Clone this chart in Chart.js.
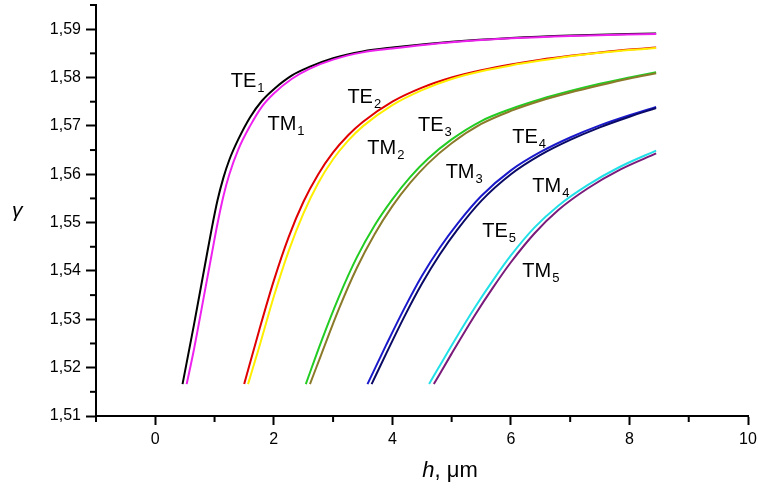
<!DOCTYPE html>
<html>
<head>
<meta charset="utf-8">
<script src="https://cdn.jsdelivr.net/npm/chart.js@4.4.0/dist/chart.umd.min.js"></script>
<style>
  html, body { margin: 0; padding: 0; background: #fff; }
  #wrap { width: 758px; height: 489px; position: relative; }
</style>
</head>
<body>
<div id="wrap"><canvas id="chart"></canvas></div>
<script>
// mode curves: thickness h (um) and effective index gamma
const te1H = [0.46, 0.65, 0.85, 0.95, 1.05, 1.15, 1.25, 1.40, 1.60, 1.80, 2.00, 2.30, 2.60, 3.00, 3.50, 4.00, 5.00, 6.00, 7.00, 8.45];
const te1G = [1.5166, 1.5287, 1.5420, 1.5486, 1.5546, 1.5593, 1.5630, 1.5672, 1.5718, 1.5752, 1.5776, 1.5804, 1.5822, 1.5840, 1.5854, 1.5862, 1.5874, 1.5882, 1.5887, 1.5891];
const tm1H = [0.53, 0.65, 0.85, 0.95, 1.05, 1.15, 1.25, 1.40, 1.60, 1.80, 2.00, 2.30, 2.60, 3.00, 3.50, 4.00, 5.00, 6.00, 7.00, 8.45];
const tm1G = [1.5166, 1.5236, 1.5367, 1.5433, 1.5498, 1.5555, 1.5600, 1.5651, 1.5700, 1.5740, 1.5767, 1.5797, 1.5818, 1.5837, 1.5852, 1.5860, 1.5873, 1.5881, 1.5886, 1.5890];

const te2H = [1.50, 1.75, 2.00, 2.25, 2.50, 2.75, 3.00, 3.25, 3.50, 4.00, 4.50, 5.00, 5.50, 6.00, 6.50, 7.00, 7.50, 8.00, 8.45];
const te2G = [1.5166, 1.5276, 1.5380, 1.5470, 1.5543, 1.5600, 1.5645, 1.5680, 1.5708, 1.5750, 1.5779, 1.5800, 1.5815, 1.5827, 1.5837, 1.5845, 1.5852, 1.5858, 1.5862];
const tm2H = [1.565, 1.75, 2.00, 2.25, 2.50, 2.75, 3.00, 3.25, 3.50, 4.00, 4.50, 5.00, 5.50, 6.00, 6.50, 7.00, 7.50, 8.00, 8.45];
const tm2G = [1.5166, 1.5241, 1.5347, 1.5441, 1.5519, 1.5582, 1.5631, 1.5669, 1.5699, 1.5743, 1.5774, 1.5797, 1.5813, 1.5825, 1.5835, 1.5844, 1.5851, 1.5857, 1.5861];

const te3H = [2.54, 2.80, 3.10, 3.40, 3.70, 4.00, 4.30, 4.60, 5.00, 5.50, 6.00, 6.50, 7.00, 7.50, 8.00, 8.45];
const te3G = [1.5166, 1.5254, 1.5347, 1.5428, 1.5494, 1.5548, 1.5594, 1.5632, 1.5672, 1.5710, 1.5735, 1.5755, 1.5772, 1.5787, 1.5800, 1.5811];
const tm3H = [2.61, 2.80, 3.10, 3.40, 3.70, 4.00, 4.30, 4.60, 5.00, 5.50, 6.00, 6.50, 7.00, 7.50, 8.00, 8.45];
const tm3G = [1.5166, 1.5227, 1.5322, 1.5406, 1.5476, 1.5534, 1.5582, 1.5622, 1.5664, 1.5704, 1.5731, 1.5752, 1.5769, 1.5784, 1.5798, 1.5809];

const te4H = [3.58, 3.90, 4.20, 4.50, 4.80, 5.10, 5.50, 6.00, 6.50, 7.00, 7.50, 8.00, 8.45];
const te4G = [1.5166, 1.5248, 1.5322, 1.5390, 1.5448, 1.5498, 1.5555, 1.5608, 1.5646, 1.5676, 1.5701, 1.5722, 1.5739];
const tm4H = [3.65, 3.90, 4.20, 4.50, 4.80, 5.10, 5.50, 6.00, 6.50, 7.00, 7.50, 8.00, 8.45];
const tm4G = [1.5166, 1.5230, 1.5305, 1.5374, 1.5434, 1.5486, 1.5545, 1.5600, 1.5640, 1.5671, 1.5697, 1.5719, 1.5737];

const te5H = [4.62, 5.00, 5.40, 5.70, 6.00, 6.40, 6.80, 7.30, 7.85, 8.45];
const te5G = [1.5166, 1.5246, 1.5326, 1.5381, 1.5432, 1.5490, 1.5535, 1.5578, 1.5616, 1.5649];
const tm5H = [4.70, 5.00, 5.40, 5.70, 6.00, 6.40, 6.80, 7.30, 7.85, 8.45];
const tm5G = [1.5166, 1.5229, 1.5310, 1.5366, 1.5418, 1.5478, 1.5526, 1.5571, 1.5610, 1.5643];

// curve labels (text, subscript, anchor in data units)
const labelText = ['TE', 'TM', 'TE', 'TM', 'TE', 'TM', 'TE', 'TM', 'TE', 'TM'];
const labelSub  = ['1', '1', '2', '2', '3', '3', '4', '4', '5', '5'];
const labelH    = [1.273, 1.892, 3.241, 3.578, 4.432, 4.899, 6.023, 6.361, 5.517, 6.192];
const labelG    = [1.5780, 1.5692, 1.5747, 1.5642, 1.5689, 1.5592, 1.5665, 1.5563, 1.5470, 1.5388];

const FONT = 'Arial, "Liberation Sans", sans-serif';

function pts(hs, gs) { return hs.map((h, i) => ({ x: h, y: gs[i] })); }
function curve(hs, gs, color, order) {
  return { data: pts(hs, gs), borderColor: color, borderWidth: 2, pointRadius: 0,
           fill: false, showLine: true, cubicInterpolationMode: 'monotone', order };
}
const isMajorY = v => Math.abs(v * 100 - Math.round(v * 100)) < 1e-6;
const isMajorX = v => Math.abs(v / 2 - Math.round(v / 2)) < 1e-6;

const extras = {
  id: 'extras',
  afterDraw(chart) {
    const ctx = chart.ctx, xs = chart.scales.x, ys = chart.scales.y;
    ctx.save();
    ctx.strokeStyle = '#000';
    ctx.lineWidth = 2;
    // minor ticks
    xs.ticks.forEach(t => {
      if (isMajorX(t.value)) return;
      const px = xs.getPixelForValue(t.value);
      ctx.beginPath(); ctx.moveTo(px, ys.bottom); ctx.lineTo(px, ys.bottom + 6); ctx.stroke();
    });
    ys.ticks.forEach(t => {
      if (isMajorY(t.value)) return;
      const py = ys.getPixelForValue(t.value);
      ctx.beginPath(); ctx.moveTo(xs.left, py); ctx.lineTo(xs.left - 6, py); ctx.stroke();
    });
    // curve labels
    ctx.fillStyle = '#000';
    ctx.textBaseline = 'alphabetic';
    labelText.forEach((txt, i) => {
      const px = xs.getPixelForValue(labelH[i]);
      const py = ys.getPixelForValue(labelG[i]);
      ctx.font = '20px ' + FONT;
      ctx.fillText(txt, px, py);
      const w = ctx.measureText(txt).width;
      ctx.font = '13px ' + FONT;
      ctx.fillText(labelSub[i], px + w + 1, py + 5);
    });
    // axis titles
    ctx.font = 'italic 22px ' + FONT;
    const hw = ctx.measureText('h').width;
    ctx.font = '22px ' + FONT;
    const rw = ctx.measureText(', \u03bcm').width;
    const x0 = 450 - (hw + rw) / 2;
    ctx.font = 'italic 22px ' + FONT;
    ctx.fillText('h', x0, 477);
    ctx.font = '22px ' + FONT;
    ctx.fillText(', \u03bcm', x0 + hw, 477);
    ctx.font = 'italic 21px ' + FONT;
    ctx.fillText('\u03b3', 12, 217);
    ctx.restore();
  }
};

new Chart(document.getElementById('chart'), {
  type: 'line',
  data: {
    datasets: [
      curve(te1H, te1G, '#000000', 1), curve(tm1H, tm1G, '#ee22ee', 0),
      curve(te2H, te2G, '#e00000', 1), curve(tm2H, tm2G, '#ffee00', 0),
      curve(te3H, te3G, '#22cc22', 1), curve(tm3H, tm3G, '#8b7a2a', 0),
      curve(te4H, te4G, '#1a1acc', 1), curve(tm4H, tm4G, '#0a0a66', 0),
      curve(te5H, te5G, '#22e0e8', 1), curve(tm5H, tm5G, '#7a1a7a', 0)
    ]
  },
  options: {
    responsive: true,
    maintainAspectRatio: false,
    animation: false,
    layout: { padding: { top: 5, right: 10, left: 0, bottom: 0 } },
    plugins: { legend: { display: false }, tooltip: { enabled: false } },
    scales: {
      x: {
        type: 'linear', min: -1, max: 10,
        afterFit: s => { s.height = 73; s.paddingLeft = 0; s.paddingRight = 0; },
        border: { display: true, color: '#000', width: 2 },
        grid: { drawOnChartArea: false, drawTicks: true, tickLength: 9, tickWidth: 2,
                tickColor: c => (c.tick && isMajorX(c.tick.value) && c.tick.value >= 0) ? '#000' : 'rgba(0,0,0,0)' },
        ticks: { stepSize: 1, padding: 5, color: '#000', font: { family: FONT, size: 16 }, maxRotation: 0,
                 autoSkip: false,
                 callback: v => (isMajorX(v) && v >= 0) ? String(v) : '' }
      },
      y: {
        type: 'linear', min: 1.51, max: 1.595,
        afterFit: s => { s.width = 96; s.paddingTop = 0; s.paddingBottom = 0; },
        border: { display: true, color: '#000', width: 2 },
        grid: { drawOnChartArea: false, drawTicks: true, tickLength: 10, tickWidth: 2,
                tickColor: c => (c.tick && isMajorY(c.tick.value)) ? '#000' : 'rgba(0,0,0,0)' },
        ticks: { stepSize: 0.005, padding: 5, color: '#000', font: { family: FONT, size: 16 },
                 autoSkip: false,
                 callback: v => isMajorY(v) ? v.toFixed(2).replace('.', ',') : '' }
      }
    }
  },
  plugins: [extras]
});
</script>
</body>
</html>
